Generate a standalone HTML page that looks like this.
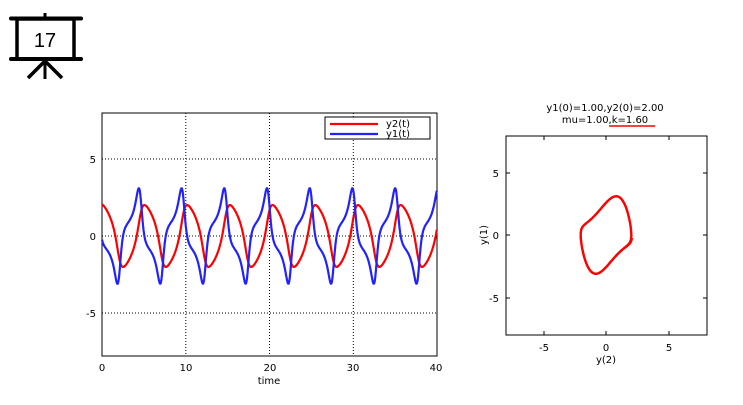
<!DOCTYPE html>
<html><head><style>
body{margin:0;background:#fff;width:743px;height:400px;overflow:hidden;font-family:"Liberation Sans",sans-serif}
</style></head><body>
<svg id="s" width="743" height="400" xmlns="http://www.w3.org/2000/svg" font-family="DejaVu Sans, Liberation Sans, sans-serif" font-size="10">
<g stroke="#000" fill="none">
<line x1="11" y1="18.5" x2="81" y2="18.5" stroke-width="4" stroke-linecap="round"/>
<line x1="11" y1="59" x2="81" y2="59" stroke-width="4" stroke-linecap="round"/>
<rect x="17" y="19" width="57" height="40" stroke-width="3.5"/>
<line x1="45" y1="13" x2="45" y2="19" stroke-width="3"/>
<line x1="45" y1="60" x2="45" y2="79" stroke-width="3"/>
<line x1="45" y1="61" x2="28" y2="78" stroke-width="3.5"/>
<line x1="45" y1="61" x2="62" y2="78" stroke-width="3.5"/>
</g>
<text x="45" y="47" font-family="Liberation Sans, sans-serif" font-size="20" text-anchor="middle">17</text>
<g stroke="#000" stroke-width="1" stroke-dasharray="1,2">
<line x1="185.8" y1="113" x2="185.8" y2="356"/>
<line x1="269.5" y1="113" x2="269.5" y2="356"/>
<line x1="353.3" y1="113" x2="353.3" y2="356"/>
<line x1="102" y1="159" x2="437" y2="159"/>
<line x1="102" y1="236" x2="437" y2="236"/>
<line x1="102" y1="313" x2="437" y2="313"/>
</g>
<rect x="102" y="113" width="335" height="243" fill="none" stroke="#000"/>
<g font-size="10" text-anchor="middle">
<text x="102" y="371">0</text><text x="186" y="371">10</text><text x="270" y="371">20</text><text x="353" y="371">30</text><text x="436" y="371">40</text>
<text x="269" y="384">time</text>
</g>
<g font-size="10" text-anchor="end"><text x="96" y="163">5</text><text x="96" y="240">0</text><text x="96" y="317">-5</text></g>
<path id="p2" fill="none" stroke="#f00" stroke-width="2.2"/>
<path id="p1" fill="none" stroke="#22f" stroke-width="2.2"/>
<rect x="325" y="117" width="105" height="22" fill="#fff" stroke="#000"/>
<line x1="330" y1="124" x2="378" y2="124" stroke="#f00" stroke-width="2.2"/>
<line x1="330" y1="134" x2="378" y2="134" stroke="#22f" stroke-width="2.2"/>
<text x="386" y="127" font-size="10">y2(t)</text>
<text x="386" y="137" font-size="10">y1(t)</text>
<text x="605" y="111" text-anchor="middle" font-size="10">y1(0)=1.00,y2(0)=2.00</text>
<text x="605" y="123" text-anchor="middle" font-size="10">mu=1.00,k=1.60</text>
<line x1="609" y1="126" x2="655" y2="126" stroke="#f00" stroke-width="1.5"/>
<rect x="506" y="136" width="201" height="199" fill="none" stroke="#000"/>
<g stroke="#000">
<line x1="544" y1="335" x2="544" y2="331"/><line x1="606" y1="335" x2="606" y2="331"/><line x1="669" y1="335" x2="669" y2="331"/>
<line x1="544" y1="136" x2="544" y2="140"/><line x1="606" y1="136" x2="606" y2="140"/><line x1="669" y1="136" x2="669" y2="140"/>
<line x1="506" y1="173" x2="510" y2="173"/><line x1="506" y1="235" x2="510" y2="235"/><line x1="506" y1="298" x2="510" y2="298"/>
<line x1="707" y1="173" x2="703" y2="173"/><line x1="707" y1="235" x2="703" y2="235"/><line x1="707" y1="298" x2="703" y2="298"/>
</g>
<g font-size="10" text-anchor="middle"><text x="544" y="351">-5</text><text x="606" y="351">0</text><text x="669" y="351">5</text><text x="606" y="363">y(2)</text></g>
<g font-size="10" text-anchor="end"><text x="499" y="177">5</text><text x="499" y="239">0</text><text x="499" y="302">-5</text></g>
<text x="0" y="0" font-size="10" text-anchor="middle" transform="translate(487,235) rotate(-90)">y(1)</text>
<path id="p3" fill="none" stroke="#f00" stroke-width="2.4"/>
</svg>
<script>
var mu=0.9,x=2.05,v=-0.2,dt=0.001,xs=[],vs=[];
function a(x,v){return mu*(1-x*x)*v-x;}
for(var i=0;i<60000;i++){xs.push(x);vs.push(v);
 var k1x=v,k1v=a(x,v),k2x=v+dt/2*k1v,k2v=a(x+dt/2*k1x,v+dt/2*k1v),k3x=v+dt/2*k2v,k3v=a(x+dt/2*k2x,v+dt/2*k2v),k4x=v+dt*k3v,k4v=a(x+dt*k3x,v+dt*k3v);
 x+=dt/6*(k1x+2*k2x+2*k3x+k4x);v+=dt/6*(k1v+2*k2v+2*k3v+k4v);}
var cr=[];for(i=20000;i<59999;i++)if(xs[i]<0&&xs[i+1]>=0)cr.push(i);
var T=(cr[cr.length-1]-cr[0])/(cr.length-1)*dt;var s=T/5.1;
var vm=0;for(i=20000;i<60000;i++)vm=Math.max(vm,Math.abs(vs[i]));var c=3.1/vm;
var d1="",d2="",d3="";
for(var t=0;t<=40;t+=0.02){var j=Math.round(t*s/dt);var y2=xs[j],y1=vs[j]*c;
 var px=102+t*8.375;d2+=(t?"L":"M")+px.toFixed(1)+","+(236-y2*15.4).toFixed(1);
 d1+=(t?"L":"M")+px.toFixed(1)+","+(236-y1*15.4).toFixed(1);
 d3+=(t?"L":"M")+(606+y2*12.6).toFixed(1)+","+(235-y1*12.5).toFixed(1);}
document.getElementById("p1").setAttribute("d",d1);
document.getElementById("p2").setAttribute("d",d2);
document.getElementById("p3").setAttribute("d",d3);
</script>
</body></html>
